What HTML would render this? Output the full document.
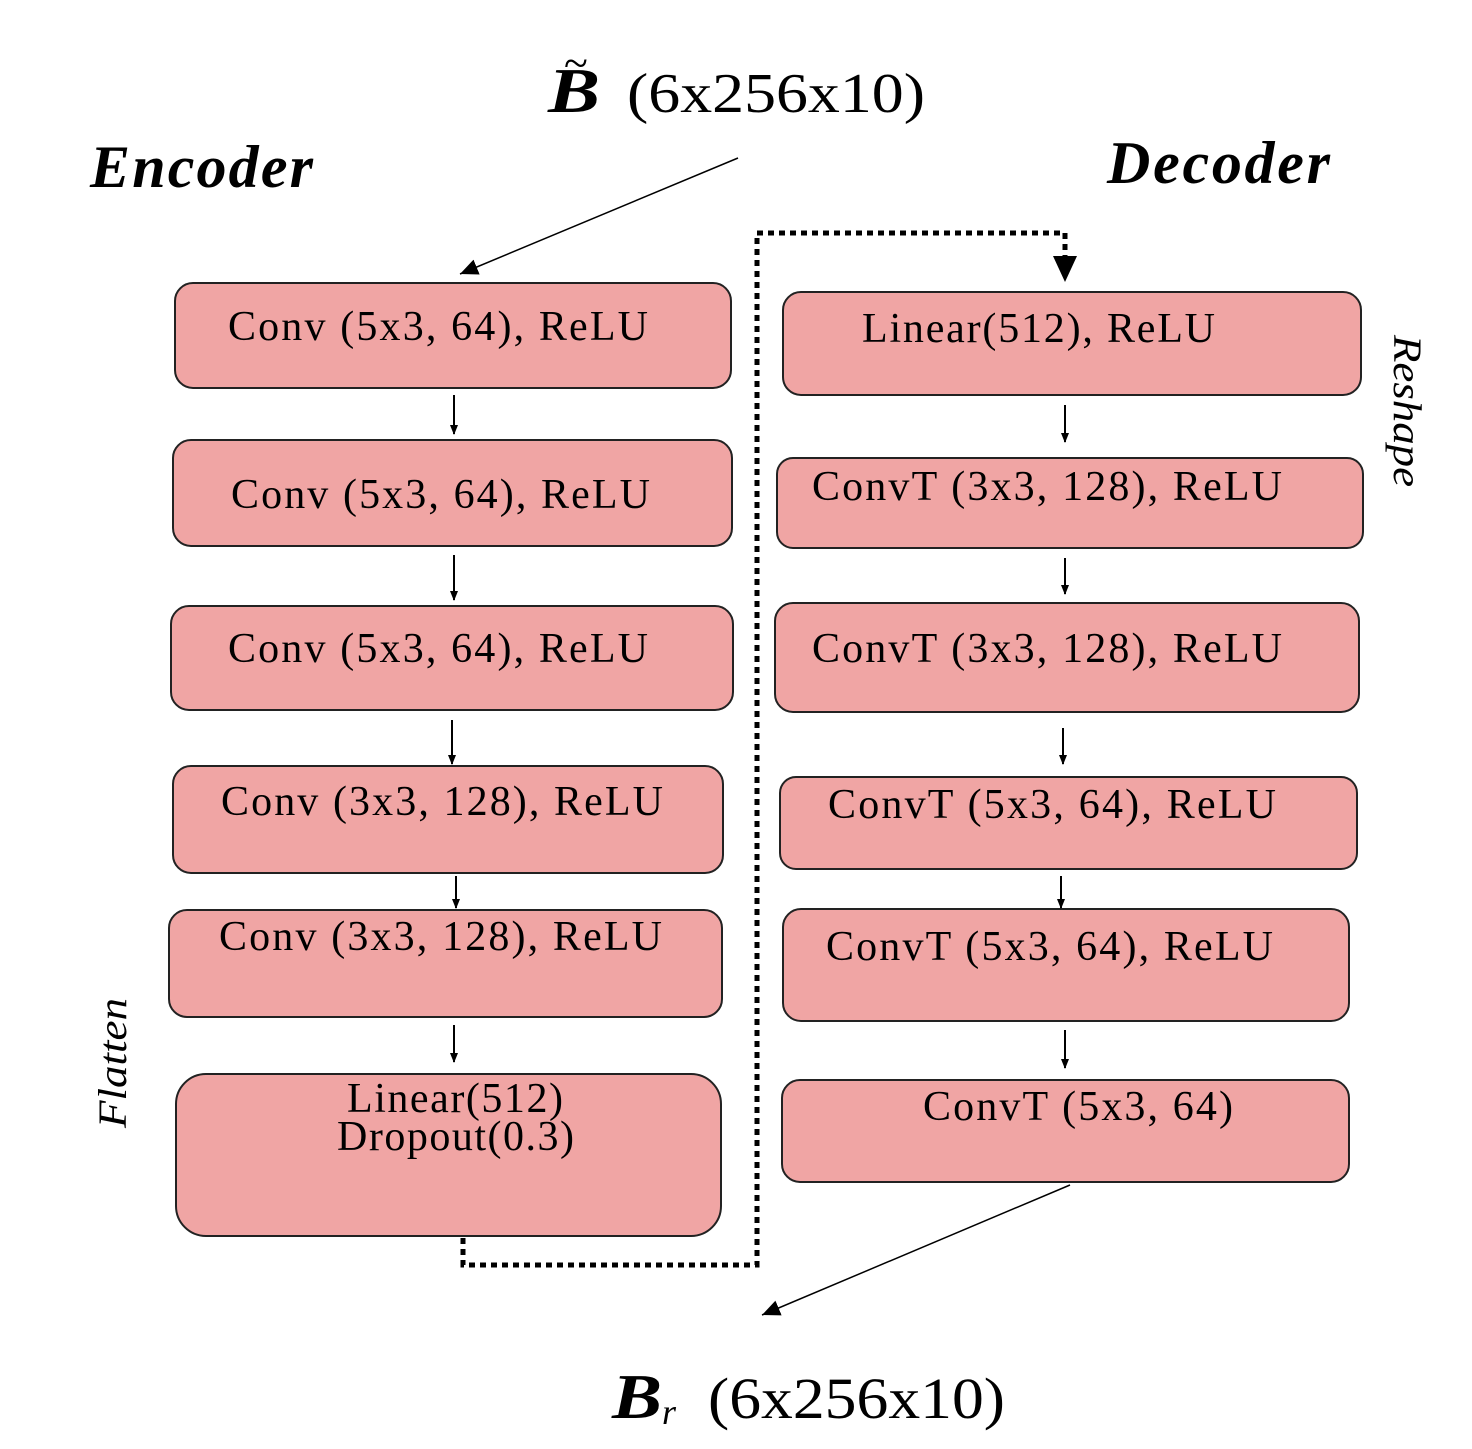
<!DOCTYPE html>
<html><head><style>body{margin:0;background:#fff}</style></head><body>
<svg width="1472" height="1444" viewBox="0 0 1472 1444" xmlns="http://www.w3.org/2000/svg" font-family="Liberation Serif, serif">
<defs><marker id="a" markerWidth="10" markerHeight="10" refX="9" refY="5" orient="auto" markerUnits="userSpaceOnUse"><path d="M0,1 L10,5 L0,9 Z" fill="#000"/></marker>
<marker id="b" markerWidth="20" markerHeight="20" refX="18" refY="10" orient="auto" markerUnits="userSpaceOnUse"><path d="M0,2 L18,10 L0,18 Z" fill="#000"/></marker></defs>
<g fill="#f0a5a4" stroke="#222" stroke-width="2">
<rect x="175" y="283" width="556" height="105" rx="18"/>
<rect x="173" y="440" width="559" height="106" rx="18"/>
<rect x="171" y="606" width="562" height="104" rx="18"/>
<rect x="173" y="766" width="550" height="107" rx="18"/>
<rect x="169" y="910" width="553" height="107" rx="18"/>
<rect x="176" y="1074" width="545" height="162" rx="30"/>
<rect x="783" y="292" width="578" height="103" rx="18"/>
<rect x="777" y="458" width="586" height="90" rx="16"/>
<rect x="775" y="603" width="584" height="109" rx="18"/>
<rect x="780" y="777" width="577" height="92" rx="16"/>
<rect x="783" y="909" width="566" height="112" rx="18"/>
<rect x="782" y="1080" width="567" height="102" rx="18"/>
</g>
<g font-size="42" fill="#000" lengthAdjust="spacing">
<text x="228" y="340" textLength="420">Conv (5x3, 64), ReLU</text>
<text x="231" y="508" textLength="419">Conv (5x3, 64), ReLU</text>
<text x="228" y="662" textLength="420">Conv (5x3, 64), ReLU</text>
<text x="221" y="815" textLength="442">Conv (3x3, 128), ReLU</text>
<text x="219" y="950" textLength="443">Conv (3x3, 128), ReLU</text>
<text x="347" y="1112" textLength="216">Linear(512)</text>
<text x="337" y="1150" textLength="237">Dropout(0.3)</text>
<text x="862" y="342" textLength="353">Linear(512), ReLU</text>
<text x="812" y="500" textLength="470">ConvT (3x3, 128), ReLU</text>
<text x="812" y="662" textLength="470">ConvT (3x3, 128), ReLU</text>
<text x="828" y="818" textLength="448">ConvT (5x3, 64), ReLU</text>
<text x="826" y="960" textLength="447">ConvT (5x3, 64), ReLU</text>
<text x="923" y="1120" textLength="310">ConvT (5x3, 64)</text>
</g>
<g stroke="#000" stroke-width="2" marker-end="url(#a)">
<line x1="454" y1="395" x2="454" y2="434"/>
<line x1="454" y1="555" x2="454" y2="600"/>
<line x1="452" y1="720" x2="452" y2="764"/>
<line x1="456" y1="876" x2="456" y2="908"/>
<line x1="454" y1="1025" x2="454" y2="1062"/>
<line x1="1065" y1="405" x2="1065" y2="442"/>
<line x1="1065" y1="558" x2="1065" y2="594"/>
<line x1="1063" y1="728" x2="1063" y2="764"/>
<line x1="1061" y1="876" x2="1061" y2="908"/>
<line x1="1065" y1="1030" x2="1065" y2="1068"/>
</g>
<g stroke="#000" stroke-width="1.5" marker-end="url(#b)">
<line x1="738" y1="158" x2="460" y2="274"/>
<line x1="1070" y1="1185" x2="762" y2="1315"/>
</g>
<path d="M463,1238 V1265 H757 V233 H1065 V258" fill="none" stroke="#000" stroke-width="5" stroke-dasharray="6,5"/>
<path d="M1053,256 L1077,256 L1065,282 Z" fill="#000"/>
<g font-weight="bold" font-style="italic" font-size="60" lengthAdjust="spacingAndGlyphs">
<text x="90" y="187" textLength="223">Encoder</text>
<text x="1107" y="183" textLength="223">Decoder</text>
</g>
<text x="548" y="112" font-size="64" font-style="italic" font-weight="bold" textLength="52" lengthAdjust="spacingAndGlyphs">B</text>
<text x="627" y="112" font-size="56" textLength="298" lengthAdjust="spacingAndGlyphs">(6x256x10)</text>
<text x="564" y="78" font-size="44">~</text>
<text x="612" y="1418" font-size="64" font-style="italic" font-weight="bold" textLength="50" lengthAdjust="spacingAndGlyphs">B</text>
<text x="662" y="1424" font-size="36" font-style="italic">r</text>
<text x="708" y="1418" font-size="58" textLength="297" lengthAdjust="spacingAndGlyphs">(6x256x10)</text>
<text transform="translate(126,1063) rotate(-90)" text-anchor="middle" font-style="italic" font-size="40" textLength="130" lengthAdjust="spacingAndGlyphs">Flatten</text>
<text transform="translate(1394,411) rotate(90)" text-anchor="middle" font-style="italic" font-size="40" textLength="152" lengthAdjust="spacingAndGlyphs">Reshape</text>
</svg>
</body></html>
